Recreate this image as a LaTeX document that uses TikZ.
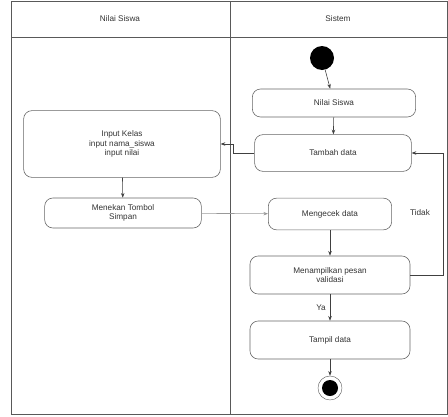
\documentclass[tikz,border=0pt]{standalone}
\usepackage{fontspec}
\setsansfont{Liberation Sans}
\usetikzlibrary{arrows.meta,positioning,calc}

\begin{document}
\begin{tikzpicture}[
    x=0.03cm, y=-0.03cm,
    act/.style={draw=black!60, rounded corners=7pt, align=center, font=\scriptsize\sffamily, text=black!80, line width=0.5pt, inner sep=2pt},
    arr/.style={-{Stealth[length=1.4mm]}, line width=0.5pt, black!75},
    lane/.style={draw=black!65, line width=0.7pt},
]
\useasboundingbox (0,0) rectangle (448,416);
% Swimlanes
\draw[lane] (11,1) rectangle (447,414);
\draw[lane] (11,37) -- (447,37);
\draw[lane] (230,1) -- (230,414);
\node[font=\scriptsize\sffamily, text=black!80] (lanesiswa) at (120,19) {Nilai Siswa};
\node[font=\scriptsize\sffamily, text=black!80] (lanesistem) at (338,19) {Sistem};

% Activities
\node[circle, fill=black, minimum size=0.72cm, inner sep=0pt] (start) at (322,58) {};
\node[act, minimum width=4.9cm, minimum height=0.84cm] (nilai) at (334,103) {Nilai Siswa};
\node[act, minimum width=4.7cm, minimum height=1.1cm] (tambah) at (333,153) {Tambah data};
\node[act, minimum width=5.9cm, minimum height=2.0cm] (input) at (122,144) {Input Kelas\\input nama\_siswa\\input nilai};
\node[act, minimum width=4.7cm, minimum height=0.9cm] (tombol) at (123,213) {Menekan Tombol\\Simpan};
\node[act, minimum width=3.7cm, minimum height=0.95cm] (cek) at (330,214) {Mengecek data};
\node[act, minimum width=4.8cm, minimum height=1.14cm] (pesan) at (330,275) {Menampilkan pesan\\validasi};
\node[act, minimum width=4.8cm, minimum height=1.14cm] (tampil) at (330,340) {Tampil data};
\node[circle, draw=black!60, minimum size=0.72cm, inner sep=0pt] (stop) at (330,388) {};
\node[circle, fill=black, minimum size=0.48cm, inner sep=0pt] (stopin) at (stop) {};

\draw[arr] (start) -- (nilai);
\draw[arr] (nilai) -- (tambah);
\draw[arr] (tambah.west) -- ++(-21,0) |- (input.east);
\draw[arr] (input) -- (tombol);
\draw[arr, black!40] (tombol) -- (cek);
\draw[arr] (cek) -- (pesan);
\draw[arr] (pesan.east) -| (443,153) -- (tambah.east);
\draw[arr] (pesan) -- node[left, font=\scriptsize\sffamily, text=black!80] {Ya} (tampil);
\draw[arr] (tampil) -- (stop);

\node[font=\scriptsize\sffamily, text=black!80] (tidak) at (420,213) {Tidak};
\end{tikzpicture}
\end{document}
